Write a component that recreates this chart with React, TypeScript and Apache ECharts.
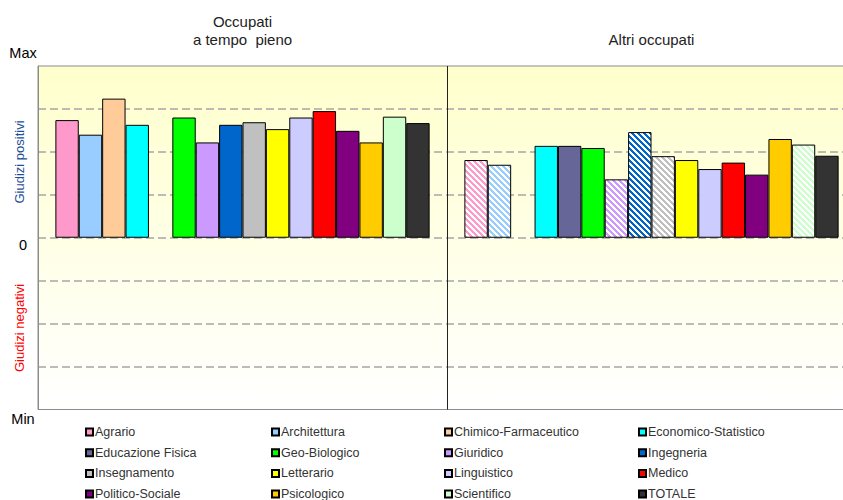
import React, { useEffect, useRef } from "react";
import * as echarts from "echarts";

const groups = ["Occupati\na tempo  pieno", "Altri occupati"];
const seriesNames = [
  "Agrario", "Architettura", "Chimico-Farmaceutico", "Economico-Statistico",
  "Educazione Fisica", "Geo-Biologico", "Giuridico", "Ingegneria",
  "Insegnamento", "Letterario", "Linguistico", "Medico",
  "Politico-Sociale", "Psicologico", "Scientifico", "TOTALE",
];
const colors = [
  "#FF99CC", "#99CCFF", "#FFCC99", "#00FFFF",
  "#666699", "#00FF00", "#CC99FF", "#0066CC",
  "#C0C0C0", "#FFFF00", "#CCCCFF", "#FF0000",
  "#800080", "#FFCC00", "#CCFFCC", "#333333",
];
// value in "Occupati a tempo pieno"
const fullTime = [2.74, 2.40, 3.24, 2.63, null, 2.80, 2.22, 2.63, 2.69, 2.53, 2.80, 2.95, 2.49, 2.22, 2.82, 2.67];
// value in "Altri occupati"
const others = [1.81, 1.70, null, 2.14, 2.14, 2.09, 1.36, 2.46, 1.90, 1.81, 1.60, 1.75, 1.47, 2.30, 2.17, 1.91];
// hatched bars in "Altri occupati"
const hatched = [true, true, false, false, false, false, true, true, true, false, false, false, false, false, true, false];
const yTickLabels: Record<string, string> = { "4": "{a|Max}", "0": "{b|0}", "-4": "{c|Min}" };

const legendCols = [
  ["Agrario", "Educazione Fisica", "Insegnamento", "Politico-Sociale"],
  ["Architettura", "Geo-Biologico", "Letterario", "Psicologico"],
  ["Chimico-Farmaceutico", "Giuridico", "Linguistico", "Scientifico"],
  ["Economico-Statistico", "Ingegneria", "Medico", "TOTALE"],
];
const legendLeft = [85, 271, 444, 638];

function hatchPattern(color: string) {
  const P = 6;
  const c = document.createElement("canvas");
  c.width = P;
  c.height = P;
  const ctx = c.getContext("2d")!;
  ctx.fillStyle = "#ffffff";
  ctx.fillRect(0, 0, P, P);
  ctx.fillStyle = color;
  for (let y = 0; y < P; y++) {
    for (let x = 0; x < P; x++) {
      if ((x - y + P * 2) % P < 3) ctx.fillRect(x, y, 1, 1);
    }
  }
  return { image: c, repeat: "repeat" };
}

export default function App() {
  const ref = useRef<HTMLDivElement>(null);
  useEffect(() => {
    if (!ref.current) return;
    const chart = echarts.init(ref.current, null, { renderer: "svg" });
    const font = "'Liberation Sans', Arial, sans-serif";
    const series = seriesNames.map((name, i) => ({
      name,
      type: "bar",
      barGap: "0%",
      barCategoryGap: "8.5%",
      itemStyle: { color: colors[i], borderColor: "#000", borderWidth: 1 },
      data: [
        fullTime[i],
        hatched[i]
          ? { value: others[i], itemStyle: { color: hatchPattern(colors[i]) } }
          : others[i],
      ],
    }));
    chart.setOption({
      animation: false,
      textStyle: { fontFamily: font },
      grid: {
        left: 38,
        top: 66,
        width: 818,
        height: 343.5,
        show: true,
        borderColor: "#8C8C8C",
        borderWidth: 1,
        backgroundColor: new echarts.graphic.LinearGradient(0, 0, 0, 1, [
          { offset: 0, color: "#FFFFCC" },
          { offset: 1, color: "#FFFFFF" },
        ]),
      },
      xAxis: {
        type: "category",
        data: groups,
        position: "top",
        axisLine: { show: false },
        axisTick: { show: false },
        axisLabel: { margin: 18, color: "#222", fontSize: 15, lineHeight: 18, fontFamily: font },
        splitLine: { show: true, lineStyle: { color: "#222", width: 1 } },
      },
      yAxis: {
        type: "value",
        min: -4,
        max: 4,
        interval: 1,
        axisLine: { show: true, lineStyle: { color: "#8C8C8C" } },
        axisTick: { show: false },
        splitLine: {
          show: true,
          showMinLine: false,
          showMaxLine: false,
          lineStyle: { color: "#A6A6A6", width: 1.5, type: [8, 4] },
        },
        axisLabel: {
          margin: 15,
          align: "center",
          color: "#000",
          fontSize: 14.5,
          fontFamily: font,
          formatter: (v: number) => yTickLabels[String(v)] || "",
          rich: {
            a: { fontSize: 14.5, padding: [0, 0, 26, 0] },
            b: { fontSize: 14.5, padding: [14, 0, 0, 0] },
            c: { fontSize: 14.5, padding: [19, 0, 0, 0] },
          },
        },
      },
      legend: legendCols.map((col, k) => ({
        data: col,
        orient: "vertical",
        left: legendLeft[k],
        top: 425,
        itemWidth: 7,
        itemHeight: 7,
        itemGap: 6.7,
        icon: "rect",
        selectedMode: false,
        padding: 0,
        textStyle: { fontSize: 12.5, color: "#333", lineHeight: 14, fontFamily: font, padding: [0, 0, 0, -3] },
      })),
      graphic: [
        {
          type: "text",
          x: 19,
          y: 162,
          rotation: Math.PI / 2,
          style: {
            text: "Giudizi positivi",
            fill: "#1F4E99",
            font: `13px ${font}`,
            align: "center",
            verticalAlign: "middle",
          },
        },
        {
          type: "text",
          x: 19,
          y: 328,
          rotation: Math.PI / 2,
          style: {
            text: "Giudizi negativi",
            fill: "#FF0000",
            font: `13px ${font}`,
            align: "center",
            verticalAlign: "middle",
          },
        },
      ],
      series,
    });
    return () => chart.dispose();
  }, []);
  return (
    <div style={{ position: "absolute", left: 0, top: 0, width: 843, height: 500, overflow: "hidden" }}>
      <div ref={ref} style={{ width: 856, height: 530 }} />
    </div>
  );
}
